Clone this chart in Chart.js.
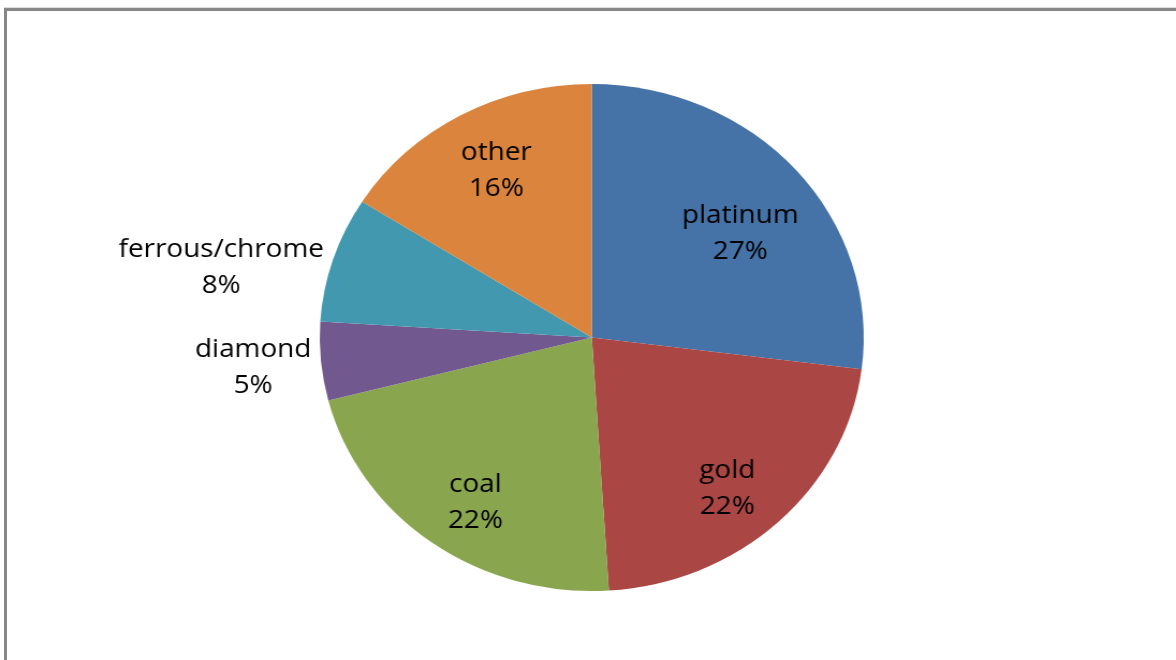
<!DOCTYPE html>
<html>
<head>
<meta charset="utf-8">
<title>Mining output by commodity</title>
<script src="https://cdn.jsdelivr.net/npm/chart.js@4/dist/chart.umd.min.js"></script>
<style>
  html, body { margin: 0; padding: 0; background: #ffffff; overflow: hidden; }
  #wrap { position: relative; width: 1176px; height: 660px; overflow: hidden; background: #ffffff; }
  #frame { position: absolute; left: 4px; top: 8px; width: 1300px; height: 800px;
           border-left: 3px solid #878787; border-top: 3px solid #878787; }
  #frameEdge { position: absolute; left: 4px; top: 7px; width: 1300px; height: 1px; background: #dcdcdc; }
  #chart { position: absolute; left: 0; top: 0; transform-origin: 0 0; }
</style>
</head>
<body>
<div id="wrap">
  <div id="frameEdge"></div>
  <div id="frame"></div>
  <canvas id="chart"></canvas>
</div>
<script>
// Share of output by commodity (percent)
const categories = ['platinum', 'gold', 'coal', 'diamond', 'ferrous/chrome', 'other'];
const shares = [27, 22, 22, 5, 8, 16];
const sliceColors = ['#4572A7', '#AA4643', '#89A54E', '#71588F', '#4198AF', '#DB843D'];

// Vertical nudge (px) applied to each slice's label after radial placement.
const labelNudge = [18, 17, 16, 2, 4, -5];

// The plot is drawn slightly wider than tall, so the canvas is stretched horizontally.
const STRETCH = 1.073;
const W = Math.round(1176 / STRETCH);
const H = 660;

const canvas = document.getElementById('chart');
canvas.width = W;
canvas.height = H;
canvas.style.transform = 'scaleX(' + STRETCH + ')';

const total = shares.reduce((a, b) => a + b, 0);

// Two-line "name / NN%" labels: inside for large slices, outside-left for small ones.
const sliceLabels = {
  id: 'sliceLabels',
  afterDatasetsDraw(chart) {
    const ctx = chart.ctx;
    const meta = chart.getDatasetMeta(0);
    ctx.save();
    ctx.font = '26px "Open Sans"';
    ctx.fillStyle = '#000000';
    ctx.textBaseline = 'middle';
    ctx.textAlign = 'center';
    meta.data.forEach((arc, i) => {
      const p = arc.getProps(['x', 'y', 'startAngle', 'endAngle', 'outerRadius'], true);
      const mid = (p.startAngle + p.endAngle) / 2;
      const frac = shares[i] / total;
      const lines = [categories[i], Math.round(frac * 100) + '%'];
      const w = Math.max(...lines.map(t => ctx.measureText(t).width));
      let cx, cy;
      if (frac >= 0.1) {
        cx = p.x + Math.cos(mid) * p.outerRadius * 0.728;
        cy = p.y + Math.sin(mid) * p.outerRadius * 0.728;
      } else {
        const ex = p.x + Math.cos(mid) * (p.outerRadius + 9);
        const ey = p.y + Math.sin(mid) * p.outerRadius;
        cx = Math.cos(mid) < 0 ? ex - w / 2 : ex + w / 2;
        cy = ey + 4;
      }
      cy += labelNudge[i];
      ctx.fillText(lines[0], cx, cy - 18);
      ctx.fillText(lines[1], cx, cy + 18);
    });
    ctx.restore();
  }
};

new Chart(canvas, {
  type: 'pie',
  data: {
    labels: categories,
    datasets: [{
      data: shares,
      backgroundColor: sliceColors,
      borderWidth: 0
    }]
  },
  options: {
    responsive: false,
    devicePixelRatio: 1,
    animation: false,
    layout: { padding: { top: 84, bottom: 69, left: 298, right: W - 298 - 507 } },
    plugins: {
      legend: { display: false },
      tooltip: { enabled: false }
    }
  },
  plugins: [sliceLabels]
});
</script>
</body>
</html>
